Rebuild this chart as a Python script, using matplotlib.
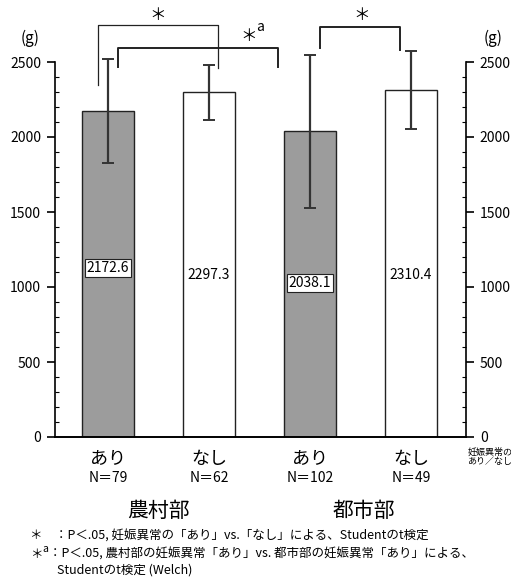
import matplotlib
matplotlib.use("Agg")
import matplotlib.pyplot as plt
from matplotlib.ticker import FixedLocator

plt.rcParams['font.family'] = ['Noto Sans CJK JP', 'DejaVu Sans']

categories = ["あり", "なし", "あり", "なし"]
n_labels = ["N＝79", "N＝62", "N＝102", "N＝49"]
groups = ["農村部", "都市部"]
means = [2172.6, 2297.3, 2038.1, 2310.4]
sds = [345, 184, 510, 260]
value_labels = ["2172.6", "2297.3", "2038.1", "2310.4"]
label_y = [1127, 1080, 1027, 1080]
boxed = [True, False, True, False]
yticks = [0, 500, 1000, 1500, 2000, 2500]
minor_ticks = [v for v in range(100, 2500, 100) if v % 500 != 0]

fig = plt.figure(figsize=(5.11, 5.80), dpi=100)
H = 580.0
W = 511.0
ax = fig.add_axes([55 / W, (580 - 437) / H, (466 - 55) / W, 420 / H])
x = [0, 1, 2, 3]
colors = ['#9c9c9c', 'white', '#9c9c9c', 'white']
ax.bar(x, means, width=0.515, color=colors, edgecolor='#222222', linewidth=1.0, zorder=2)
ax.errorbar(x, means, yerr=sds, fmt='none', ecolor='#333333', elinewidth=1.6,
            capsize=4, capthick=1.4, zorder=3)
for xi, lab, ly, bx in zip(x, value_labels, label_y, boxed):
    kw = {}
    if bx:
        kw['bbox'] = dict(boxstyle='square,pad=0.15', fc='white', ec='#222222', lw=0.8)
    ax.text(xi, ly, lab, ha='center', va='center', fontsize=10, zorder=4, **kw)

ax.set_xlim(-0.525, 3.545)
ax.set_ylim(0, 2800)
ax.set_xticks([])
ax.set_yticks(yticks)
ax.yaxis.set_minor_locator(FixedLocator(minor_ticks))
ax.tick_params(axis='y', which='major', direction='out', length=6, width=1.2,
               labelsize=10, left=True, right=True, labelleft=True, labelright=True, pad=4)
ax.tick_params(axis='y', which='minor', direction='in', length=3, width=0.8,
               left=True, right=True)
for s in ['left', 'right']:
    ax.spines[s].set_bounds(0, 2500)
    ax.spines[s].set_linewidth(1.2)
ax.spines['top'].set_visible(False)
ax.spines['bottom'].set_linewidth(1.4)

def bracket(x0, x1, ytop, yl, yr, lw=1.2):
    ax.plot([x0, x0, x1, x1], [yl, ytop, ytop, yr], color='#222222', lw=lw, clip_on=False, zorder=5)

bracket(-0.1, 1.09, 2747, 2347, 2460, lw=0.9)
bracket(0.1, 1.68, 2593, 2467, 2467, lw=1.4)
bracket(2.1, 2.89, 2733, 2593, 2580, lw=1.4)
ax.text(0.495, 2810, "＊", ha='center', va='center', fontsize=12, clip_on=False)
ax.text(1.39, 2670, "＊", ha='center', va='center', fontsize=12, clip_on=False)
ax.text(1.51, 2735, "a", ha='center', va='center', fontsize=10, clip_on=False)
ax.text(2.51, 2810, "＊", ha='center', va='center', fontsize=12, clip_on=False)

# (g) labels
fig.text(30 / W, 1 - 38 / H, "(g)", ha='center', va='center', fontsize=11)
fig.text(493 / W, 1 - 38 / H, "(g)", ha='center', va='center', fontsize=11)

# category labels
for xi, c, n in zip(x, categories, n_labels):
    ax.text(xi, -145, c, ha='center', va='center', fontsize=13, clip_on=False)
    ax.text(xi, -272, n, ha='center', va='center', fontsize=10, clip_on=False)
ax.text(0.5, -492, groups[0], ha='center', va='center', fontsize=15, clip_on=False)
ax.text(2.53, -492, groups[1], ha='center', va='center', fontsize=15, clip_on=False)
fig.text(490 / W, 1 - 457 / H, "妊娠異常の\nあり／なし", ha='center', va='center',
         fontsize=6.5, linespacing=1.0)

# footnotes
fs = 9
fig.text(30 / W, 1 - 536 / H, "＊　：P＜.05, 妊娠異常の「あり」vs.「なし」による、Studentのt検定",
         ha='left', va='center', fontsize=fs)
fig.text(30 / W, 1 - 554 / H, "＊", ha='left', va='center', fontsize=fs)
fig.text(42 / W, 1 - 549 / H, "a", ha='left', va='center', fontsize=7.5)
fig.text(49 / W, 1 - 554 / H, "：P＜.05, 農村部の妊娠異常「あり」vs. 都市部の妊娠異常「あり」による、",
         ha='left', va='center', fontsize=fs)
fig.text(57 / W, 1 - 570 / H, "Studentのt検定 (Welch)", ha='left', va='center', fontsize=fs)

fig.savefig("out.png", dpi=100, facecolor='white')
